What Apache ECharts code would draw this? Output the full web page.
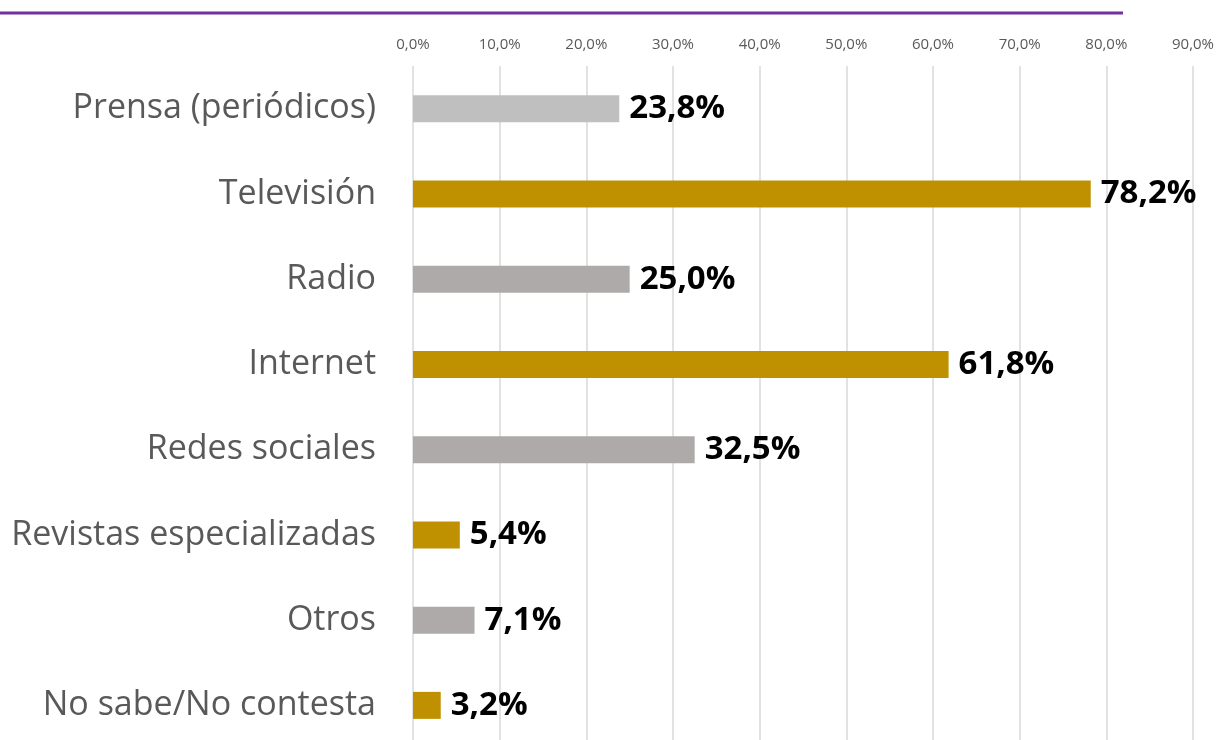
<!DOCTYPE html>
<html><head><meta charset="utf-8">
<script src="https://cdn.jsdelivr.net/npm/echarts@6/dist/echarts.min.js"></script>
<style>html,body{margin:0;padding:0;background:#fff}#c{width:1218px;height:740px}</style>
</head><body><div id="c"></div>
<script>
const categories = ["Prensa (periódicos)","Televisión","Radio","Internet","Redes sociales","Revistas especializadas","Otros","No sabe/No contesta"];
const values = [23.8,78.2,25.0,61.8,32.5,5.4,7.1,3.2];
const barColors = ["#bfbfbf","#bf9000","#aeaaaa","#bf9000","#aeaaaa","#bf9000","#aeaaaa","#bf9000"];
const fmt = v => v.toFixed(1).replace('.', ',') + '%';
const chart = echarts.init(document.getElementById('c'));
chart.setOption({
  animation:false,
  grid:{left:413,width:780,top:66,height:682,containLabel:false,outerBoundsMode:'none'},
  graphic:[{type:'line',shape:{x1:0,y1:13,x2:1123,y2:13},style:{stroke:'#7030a0',lineWidth:3}}],
  xAxis:{type:'value',position:'top',min:0,max:90,interval:10,
    axisLine:{show:false},axisTick:{show:false},
    splitLine:{lineStyle:{color:'#d9d9d9',width:1.5}},
    axisLabel:{formatter:v=>fmt(v),color:'#595959',fontSize:15,fontFamily:'Open Sans',margin:14}},
  yAxis:{type:'category',inverse:true,data:categories,
    axisLine:{show:false},axisTick:{show:false},
    axisLabel:{color:'#595959',fontSize:34,fontFamily:'Open Sans',margin:37}},
  series:[{type:'bar',barWidth:27,
    data:values.map((v,i)=>({value:v,itemStyle:{color:barColors[i]}})),
    label:{show:true,position:'right',distance:10,formatter:p=>fmt(p.value),color:'#000',fontSize:33,fontWeight:'bold',fontFamily:'Open Sans'}}]
});
</script></body></html>
